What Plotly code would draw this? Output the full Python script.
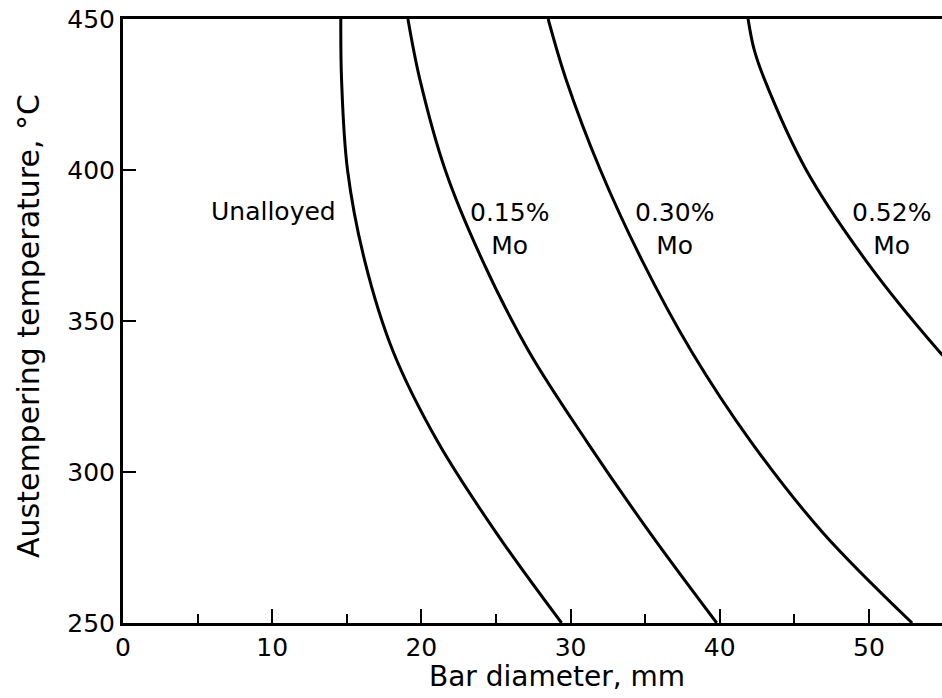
import plotly.graph_objects as go

# Bar diameter (mm) vs austempering temperature (°C)
unalloyed_temp = [450, 430, 400, 370, 340, 310, 280, 250]
unalloyed_dia = [14.6, 14.65, 15.05, 16.2, 18.1, 21.1, 25.0, 29.4]

mo015_temp = [450, 430, 400, 370, 340, 310, 280, 250]
mo015_dia = [19.1, 19.9, 21.6, 24.1, 27.2, 31.1, 35.3, 39.8]

mo030_temp = [450, 430, 400, 370, 340, 310, 280, 250]
mo030_dia = [28.5, 29.7, 32.0, 34.8, 38.1, 42.1, 46.9, 52.9]

mo052_temp = [450, 440, 430, 400, 370, 340, 330]
mo052_dia = [41.9, 42.3, 43.0, 45.8, 49.8, 54.7, 56.6]

x_ticks = [0, 10, 20, 30, 40, 50]
x_minor = [5, 15, 25, 35, 45]
y_ticks = [250, 300, 350, 400, 450]

labels = ["Unalloyed", "0.15%<br>Mo", "0.30%<br>Mo", "0.52%<br>Mo"]
label_x = [14.4, 25.9, 37.0, 51.5]
label_y = [386.1, 380.5, 380.5, 380.5]
label_anchor = ["right", "center", "center", "center"]

FONT = "DejaVu Sans"

fig = go.Figure()
for d, t in [(unalloyed_dia, unalloyed_temp), (mo015_dia, mo015_temp),
             (mo030_dia, mo030_temp), (mo052_dia, mo052_temp)]:
    fig.add_trace(go.Scatter(x=d, y=t, mode="lines",
                             line=dict(color="black", width=3, shape="spline", smoothing=1.0),
                             showlegend=False, hoverinfo="skip"))

for txt, lx, ly, anc in zip(labels, label_x, label_y, label_anchor):
    fig.add_annotation(x=lx, y=ly, text=txt, showarrow=False, xanchor=anc,
                       font=dict(family=FONT, size=25, color="black"), align="center")

# axis titles as annotations for exact placement
fig.add_annotation(xref="paper", yref="paper", x=0.53, y=-0.0894, text="Bar diameter, mm",
                   showarrow=False, xanchor="center", yanchor="middle",
                   font=dict(family=FONT, size=28, color="black"))
fig.add_annotation(xref="paper", yref="paper", x=-0.116, y=0.4917,
                   text="Austempering temperature, °C", textangle=-90,
                   showarrow=False, xanchor="center", yanchor="middle",
                   font=dict(family=FONT, size=30, color="black"))

fig.update_layout(
    width=942, height=698,
    margin=dict(l=123, r=0, t=19, b=75),
    paper_bgcolor="white", plot_bgcolor="white",
    font=dict(family=FONT, size=25, color="black"),
)
fig.update_xaxes(range=[0, 54.9], tickvals=x_ticks, ticks="inside", ticklen=14, tickwidth=2,
                 tickcolor="black",
                 showline=True, linewidth=3, linecolor="black", mirror=True,
                 showgrid=False, zeroline=False,
                 minor=dict(tickvals=x_minor, ticks="inside", ticklen=9, tickwidth=2, tickcolor="black"))
fig.update_yaxes(range=[250, 450], tickvals=y_ticks, ticks="inside", ticklen=13, tickwidth=2,
                 tickcolor="black",
                 showline=True, linewidth=3, linecolor="black", mirror=False,
                 showgrid=False, zeroline=False)

fig.write_html("out.html")
